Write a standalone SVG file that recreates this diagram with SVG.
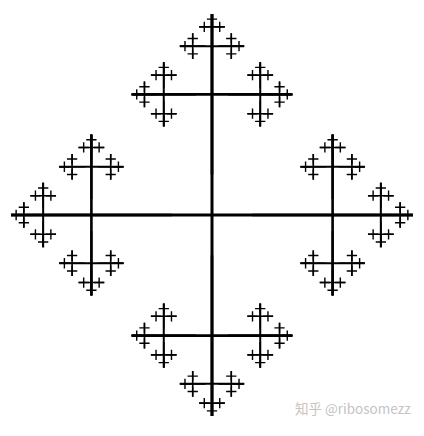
<svg xmlns="http://www.w3.org/2000/svg" xmlns:xlink="http://www.w3.org/1999/xlink" width="424" height="436" viewBox="0 0 424 436">
<style>
.l0{stroke:#000;stroke-width:3;fill:none}
.l1{stroke:#000;stroke-width:2.6;fill:none}
.l2{stroke:#000;stroke-width:2;fill:none}
.l3{stroke:#000;stroke-width:1.6;fill:none}
.l4{stroke:#000;stroke-width:1.4;fill:none}
.wm{font-family:"Noto Sans CJK SC","Noto Sans",sans-serif;font-size:13.5px;fill:#c4c4c4}
</style>
<defs>
<g id="c4"><path class="l4" d="M-5.15 0H5.15M0 -5.15V5.15"/></g>
<g id="c3">
<path class="l3" d="M-12.86 0H12.86M0 -12.86V12.86"/>
<use xlink:href="#c4" href="#c4" transform="translate(0,-7.72)"/>
<use xlink:href="#c4" href="#c4" transform="translate(-7.72,0) rotate(-90)"/>
<use xlink:href="#c4" href="#c4" transform="translate(7.72,0) rotate(90)"/>
</g>
<g id="c2">
<path class="l2" d="M-32.16 0H32.16M0 -32.16V32.16"/>
<use xlink:href="#c3" href="#c3" transform="translate(0,-19.3)"/>
<use xlink:href="#c3" href="#c3" transform="translate(-19.3,0) rotate(-90)"/>
<use xlink:href="#c3" href="#c3" transform="translate(19.3,0) rotate(90)"/>
</g>
<g id="c1">
<path class="l1" d="M-80.4 0H80.4M0 -80.4V80.4"/>
<use xlink:href="#c2" href="#c2" transform="translate(0,-48.24)"/>
<use xlink:href="#c2" href="#c2" transform="translate(-48.24,0) rotate(-90)"/>
<use xlink:href="#c2" href="#c2" transform="translate(48.24,0) rotate(90)"/>
</g>
</defs>
<g id="fractal" transform="translate(212,215)">
<path class="l0" d="M-201 0H201M0 -201V201"/>
<use xlink:href="#c1" href="#c1" transform="translate(0,-120.6)"/>
<use xlink:href="#c1" href="#c1" transform="translate(-120.6,0) rotate(-90)"/>
<use xlink:href="#c1" href="#c1" transform="translate(120.6,0) rotate(90)"/>
<use xlink:href="#c1" href="#c1" transform="translate(0,120.6) rotate(180)"/>
</g>
<text class="wm" x="295" y="414">知乎 @ribosomezz</text>
</svg>
